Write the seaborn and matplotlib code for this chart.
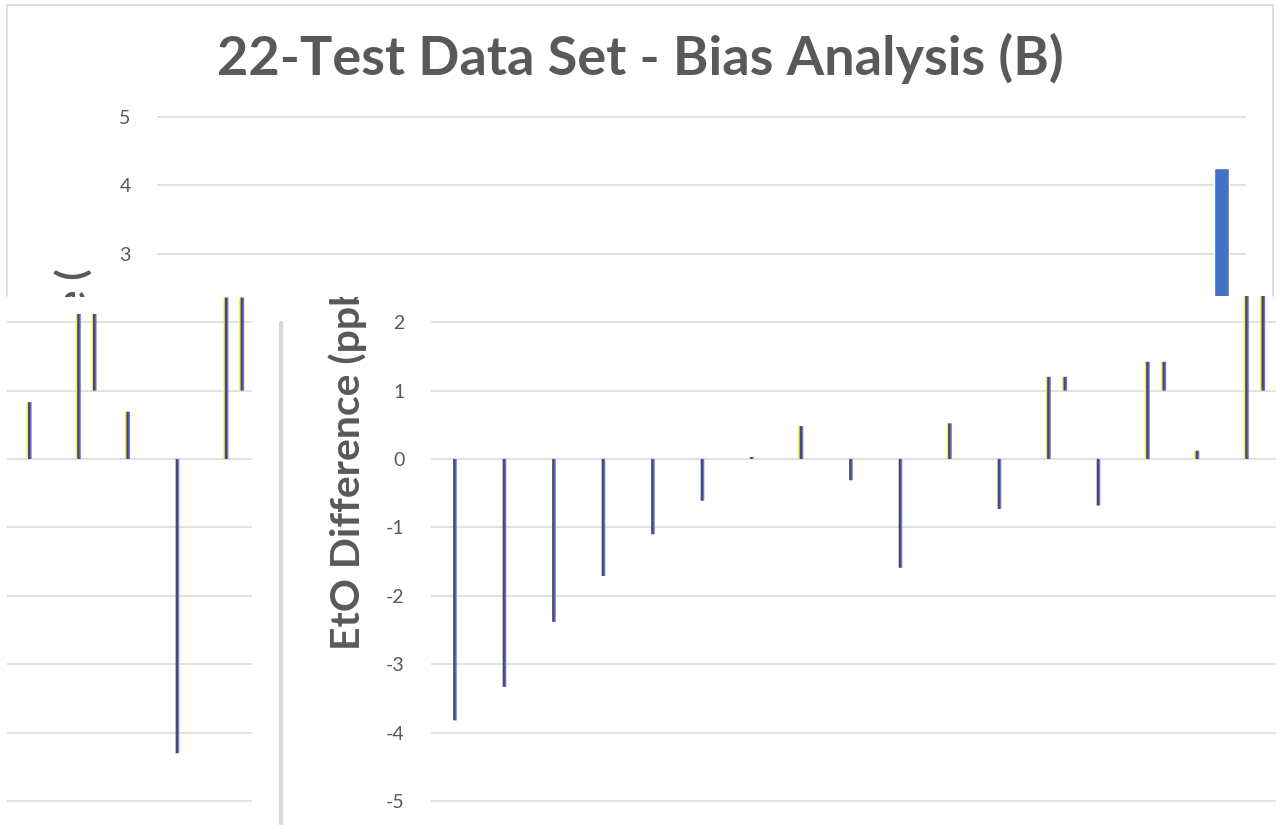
import numpy as np
import pandas as pd
import matplotlib
matplotlib.use("Agg")
import matplotlib.pyplot as plt
import seaborn as sns
from matplotlib.transforms import Bbox, TransformedBbox

# data (22 tests)
tests = [f"T{i}" for i in range(1, 23)]
bias = [0.83, 2.12, 0.69, -4.30, 2.36, -3.82, -3.33, -2.38, -1.71, -1.10, -0.61,
        0.03, 0.48, -0.31, -1.59, 0.52, -0.73, 1.20, -0.68, 1.42, 0.12, 4.25]
title = "22-Test Data Set - Bias Analysis (B)"
ylabel = "EtO Difference (ppb)"
yticks_top = [3, 4, 5]
yticks_low = [-5, -4, -3, -2, -1, 0, 1, 2]

df = pd.DataFrame({"test": tests, "bias": bias})
df["idx"] = np.arange(len(df))

sns.set_style("white")
plt.rcParams["font.family"] = ["Lato", "DejaVu Sans"]

W, H = 1276, 825
grey = "#595959"
grid = "#d9d9d9"
fig = plt.figure(figsize=(W / 100, H / 100), dpi=100)


def rect(x0, y0, x1, y1):
    return [x0 / W, 1 - y1 / H, (x1 - x0) / W, (y1 - y0) / H]


def style(ax, ticks, ylim):
    ax.set_ylim(*ylim)
    ax.set_yticks(ticks)
    ax.set_xticks([])
    ax.set_xlabel("")
    ax.set_ylabel("")
    ax.grid(axis="y", color=grid, linewidth=1.1)
    ax.set_axisbelow(True)
    for s in ax.spines.values():
        s.set_visible(False)
    ax.tick_params(axis="y", length=0, pad=19, labelsize=14, labelcolor=grey)
    ax.patch.set_alpha(0)


# upper part of the chart: wide blue bars
ax_top = fig.add_axes(rect(157, 100, 1246, 296))
sns.barplot(data=df, x="test", y="bias", color="#4472c4", width=0.3,
            saturation=1, errorbar=None, ax=ax_top)
ax_top.set_xlim(-0.5, 21.5)
style(ax_top, yticks_top, (2.387, 5.248))


def thin_bars(ax, sub, ghost_shift):
    px = 1 / 49.4
    vals = sub["bias"]
    over = (vals - 1).clip(lower=0)   # ghost copies of the part above 1
    for shift, hs, bottom in [(0, vals, 0), (ghost_shift, over, 1)]:
        layers = [
            (-1.4 * px, hs.clip(lower=0), "#f0ea4a"),
            (1.4 * px, hs, "#6f6fff"),
            (0, hs, "#4a4a52"),
        ]
        for dx, h, c in layers:
            n0 = len(ax.patches)
            sns.barplot(x=(sub["idx"] + shift + dx).values, y=h.values,
                        native_scale=True, orient="x", width=2.2 * px,
                        color=c, saturation=1, linewidth=0,
                        errorbar=None, ax=ax)
            for p in ax.patches[n0:]:
                p.set_y(p.get_y() + bottom)
                p.set_snap(False)


low_ylim = (-5.349, 2.382)

ax_left = fig.add_axes(rect(7, 296, 252, 825))
thin_bars(ax_left, df[df["idx"] < 5], 0.32)
ax_left.set_xlim(-0.45, 4.53)
style(ax_left, yticks_low, low_ylim)
ax_left.set_yticklabels([])

ax_main = fig.add_axes(rect(431, 296, 1276, 825))
thin_bars(ax_main, df[df["idx"] >= 5], 0.33)
ax_main.set_xlim(4.53, 21.6)
style(ax_main, yticks_low, low_ylim)
ax_main.set_yticklabels([str(t) for t in yticks_low])

# title
fig.text(640 / W, 1 - 75 / H, title, ha="center", va="baseline",
         fontsize=39, fontweight="bold", color=grey)

# y label of main panel, cut off at the seam
lab = fig.text(348 / W, 1 - 650 / H, ylabel, rotation=90, ha="center",
               va="bottom", fontsize=29.5, fontweight="bold", color=grey)
lab.set_clip_box(TransformedBbox(Bbox.from_extents(0, 0, 1, 1 - 297 / H),
                                 fig.transFigure))
lab.set_clip_on(True)

# fragment of the left panel's label poking above the seam
frag = fig.text(75 / W, 1 - 268 / H, "EtO Difference (", rotation=90,
                ha="center", va="top", fontsize=29.5, fontweight="bold",
                color=grey)
frag.set_clip_box(TransformedBbox(
    Bbox.from_extents(0, 1 - 297 / H, 0.25, 1 - 262 / H), fig.transFigure))
frag.set_clip_on(True)

# chart frame and divider
for xs, ys, lw in [([7, 1273], [5, 5], 1.2), ([7, 7], [5, 296], 1.2),
                   ([1273, 1273], [5, 296], 1.2), ([280.5, 280.5], [323, 825], 3)]:
    fig.add_artist(plt.Line2D([x / W for x in xs], [1 - y / H for y in ys],
                              color=grid, linewidth=lw))

fig.savefig("out.png", dpi=100, facecolor="white")
